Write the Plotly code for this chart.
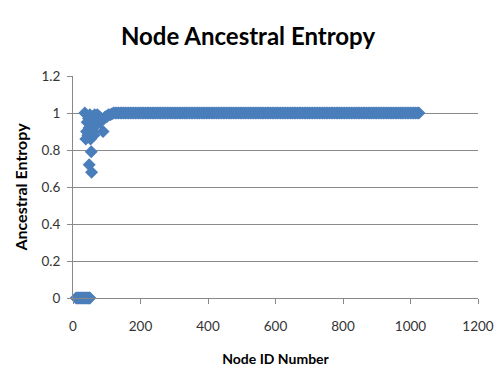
import plotly.graph_objects as go

# Node IDs and their ancestral entropy
zero_ids = [9, 12, 15, 18, 21, 24, 27, 30, 33, 36, 39, 42, 45, 48, 50]
zero_vals = [0, 0, 0, 0, 0, 0, 0, 0, 0, 0, 0, 0, 0, 0, 0]

mixed_ids = [35, 38, 40, 42, 44, 46, 48, 48, 50, 52, 54, 55, 55, 56, 58, 60, 62, 64, 66,
             68, 70, 72, 75, 78, 80, 84, 89, 92, 96, 100, 105, 110, 115, 120, 125, 130]
mixed_vals = [1.0, 0.86, 0.9, 0.95, 0.88, 0.97, 0.72, 0.92, 0.99, 0.86, 0.79, 0.68, 0.94,
              0.98, 0.9, 0.96, 0.88, 0.99, 0.93, 0.97, 0.95, 0.99, 0.97, 0.98, 0.95, 0.97,
              0.9, 0.97, 0.98, 0.98, 0.99, 0.99, 0.995, 1.0, 1.0, 1.0]

flat_ids = [135, 140, 145, 150, 155, 160, 165, 170, 175, 180, 185, 190, 195, 200, 205,
            210, 215, 220, 225, 230, 235, 240, 245, 250, 255, 260, 265, 270, 275, 280,
            285, 290, 295, 300, 305, 310, 315, 320, 325, 330, 335, 340, 345, 350, 355,
            360, 365, 370, 375, 380, 385, 390, 395, 400, 405, 410, 415, 420, 425, 430,
            435, 440, 445, 450, 455, 460, 465, 470, 475, 480, 485, 490, 495, 500, 505,
            510, 515, 520, 525, 530, 535, 540, 545, 550, 555, 560, 565, 570, 575, 580,
            585, 590, 595, 600, 605, 610, 615, 620, 625, 630, 635, 640, 645, 650, 655,
            660, 665, 670, 675, 680, 685, 690, 695, 700, 705, 710, 715, 720, 725, 730,
            735, 740, 745, 750, 755, 760, 765, 770, 775, 780, 785, 790, 795, 800, 805,
            810, 815, 820, 825, 830, 835, 840, 845, 850, 855, 860, 865, 870, 875, 880,
            885, 890, 895, 900, 905, 910, 915, 920, 925, 930, 935, 940, 945, 950, 955,
            960, 965, 970, 975, 980, 985, 990, 995, 1000, 1005, 1010, 1015, 1020, 1025]
flat_vals = [1, 1, 1, 1, 1, 1, 1, 1, 1, 1, 1, 1, 1, 1, 1,
             1, 1, 1, 1, 1, 1, 1, 1, 1, 1, 1, 1, 1, 1, 1,
             1, 1, 1, 1, 1, 1, 1, 1, 1, 1, 1, 1, 1, 1, 1,
             1, 1, 1, 1, 1, 1, 1, 1, 1, 1, 1, 1, 1, 1, 1,
             1, 1, 1, 1, 1, 1, 1, 1, 1, 1, 1, 1, 1, 1, 1,
             1, 1, 1, 1, 1, 1, 1, 1, 1, 1, 1, 1, 1, 1, 1,
             1, 1, 1, 1, 1, 1, 1, 1, 1, 1, 1, 1, 1, 1, 1,
             1, 1, 1, 1, 1, 1, 1, 1, 1, 1, 1, 1, 1, 1, 1,
             1, 1, 1, 1, 1, 1, 1, 1, 1, 1, 1, 1, 1, 1, 1,
             1, 1, 1, 1, 1, 1, 1, 1, 1, 1, 1, 1, 1, 1, 1,
             1, 1, 1, 1, 1, 1, 1, 1, 1, 1, 1, 1, 1, 1, 1,
             1, 1, 1, 1, 1, 1, 1, 1, 1, 1, 1, 1, 1, 1]

x_ticks = [0, 200, 400, 600, 800, 1000, 1200]
y_ticks = [0, 0.2, 0.4, 0.6, 0.8, 1, 1.2]
y_tick_labels = ["0", "0.2", "0.4", "0.6", "0.8", "1", "1.2"]

node_ids = zero_ids + mixed_ids + flat_ids
entropy = zero_vals + mixed_vals + flat_vals

FONT = "Lato, 'Open Sans', sans-serif"

fig = go.Figure(go.Scatter(
    x=node_ids, y=entropy, mode="markers",
    marker=dict(symbol="diamond", size=10, color="#4a7ebb", line=dict(width=0)),
    cliponaxis=False, showlegend=False,
))

fig.update_layout(
    width=496, height=381,
    margin=dict(l=73, r=18, t=76, b=83, autoexpand=False),
    paper_bgcolor="white", plot_bgcolor="white",
    font=dict(family=FONT, color="#333", size=13),
    title=dict(text="<b>Node Ancestral Entropy</b>", x=0.5, xanchor="center",
               y=0.903, yanchor="middle", font=dict(size=24, family=FONT, color="#000")),
    xaxis=dict(range=[0, 1200], tickvals=x_ticks, showgrid=False, zeroline=False,
               showline=True, linecolor="#888", linewidth=1, ticks="outside",
               ticklen=5, tickcolor="#888", automargin=False, ticklabelstandoff=11,
               tickfont=dict(size=13.5),
               title=dict(text="<b>Node ID Number</b>", standoff=20,
                          font=dict(size=14, color="#000"))),
    yaxis=dict(range=[0, 1.2], tickvals=y_ticks, ticktext=y_tick_labels,
               showgrid=True, gridcolor="#8a8a8a", gridwidth=1, zeroline=False,
               showline=True, linecolor="#888", linewidth=1, ticks="outside",
               ticklen=5, tickcolor="#8a8a8a", automargin=False, ticklabelstandoff=4,
               tickfont=dict(size=13.5),
               title=dict(text="<b>Ancestral Entropy</b>", standoff=9,
                          font=dict(size=16, color="#000"))),
)

# remove the default page margin so the 496x381 figure fills the window exactly
fig.write_html(
    "out.html",
    config={"displayModeBar": False},
    post_script="document.body.style.margin='0';document.body.style.overflow='hidden';",
)
